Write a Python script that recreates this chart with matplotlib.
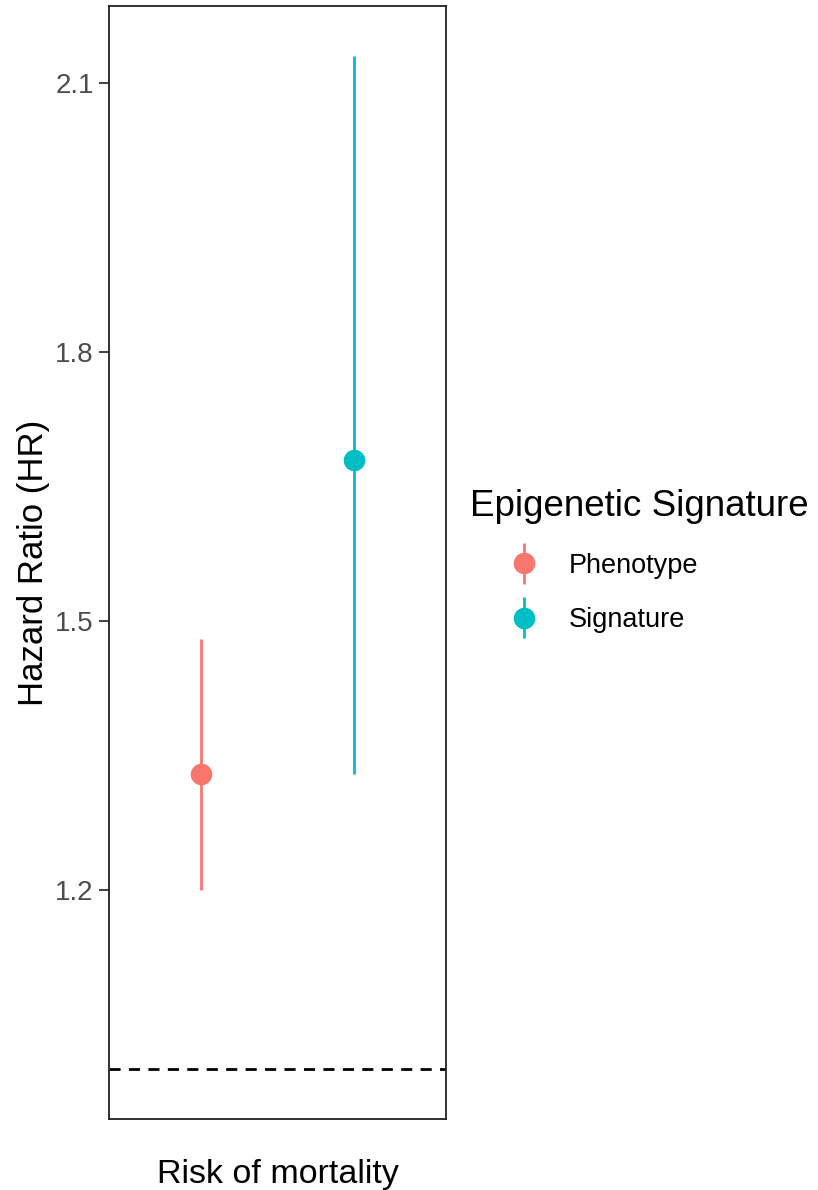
import matplotlib.pyplot as plt
import numpy as np
from matplotlib.legend_handler import HandlerErrorbar

plt.rcParams['font.family'] = ['Liberation Sans', 'DejaVu Sans']

groups = ['Phenotype', 'Signature']
colors = ['#F8766D', '#00BFC4']
hr = [1.33, 1.68]
lower = [1.20, 1.33]
upper = [1.48, 2.13]
x_pos = [0.728, 1.272]

fig = plt.figure(figsize=(8.18, 11.9), dpi=100)
ax = fig.add_axes([0.1333, 0.0597, 0.412, 0.935])

handles = []
for i in range(len(groups)):
    yerr = np.array([[hr[i] - lower[i]], [upper[i] - hr[i]]])
    h = ax.errorbar([x_pos[i]], [hr[i]], yerr=yerr, fmt='o', color=colors[i],
                    ms=14.5, elinewidth=2.0, capsize=0, label=groups[i], zorder=3)
    handles.append(h)

# reference line at HR = 1
ax.axhline(1.0, color='black', lw=2.0, ls=(0, (4, 3)), zorder=2)

ax.set_xlim(0.4, 1.6)
ax.set_ylim(0.9446, 2.186)
ax.set_xticks([])
ax.set_yticks([1.2, 1.5, 1.8, 2.1])
ax.set_yticklabels(['1.2', '1.5', '1.8', '2.1'])
ax.tick_params(axis='y', length=7, width=1.3, color='#333333', labelsize=20,
               labelcolor='#4D4D4D', pad=4)
for s in ax.spines.values():
    s.set_linewidth(1.3)
    s.set_color('#222222')

ax.set_xlabel('Risk of mortality', fontsize=24.5, labelpad=29)
ax.set_ylabel('Hazard Ratio (HR)', fontsize=25, labelpad=4)

# legend
fig.text(470 / 818, 1 - 507 / 1190, 'Epigenetic Signature', fontsize=26.5,
         va='center', ha='left')
leg = fig.legend(handles=handles, labels=groups,
                 loc='center left', bbox_to_anchor=(506 / 818, 1 - 593 / 1190),
                 frameon=False, fontsize=19.5, borderpad=0, borderaxespad=0,
                 handler_map={type(handles[0]): HandlerErrorbar(yerr_size=0.75)},
                 handlelength=1.33, handletextpad=1.0, labelspacing=1.05)

fig.savefig('out.png', dpi=100)
